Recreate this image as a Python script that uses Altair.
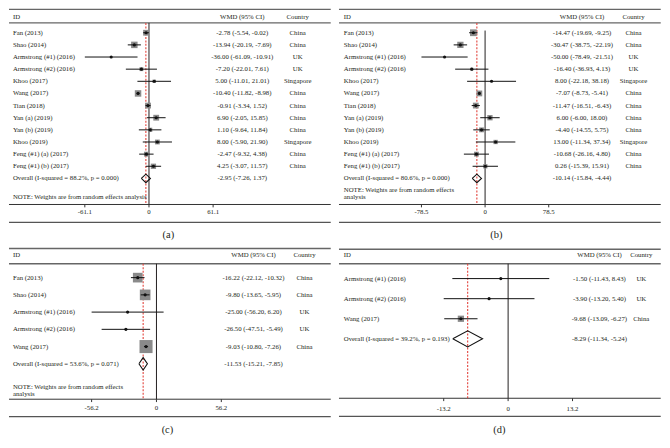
import altair as alt
import pandas as pd

FONT = "Liberation Serif"
TXT = "#231f20"
SX, SY = 0.975, 0.955
PW = 331                      # reference panel width (px)
W = PW * SX
FS = 6.8
CAPFS = 10.5

# ---------------- data ----------------
ab_study = ["Fan (2013)", "Shao (2014)", "Armstrong (#1) (2016)", "Armstrong (#2) (2016)",
            "Khoo (2017)", "Wang (2017)", "Tian (2018)", "Yan (a) (2019)", "Yan (b) (2019)",
            "Khoo (2019)", "Feng (#1) (a) (2017)", "Feng (#1) (b) (2017)"]
ab_country = ["China", "China", "UK", "UK", "Singapore", "China", "China", "China", "China",
              "Singapore", "China", "China"]

a_est = [-2.78, -13.94, -36.00, -7.20, 5.00, -10.40, -0.91, 6.90, 1.10, 8.00, -2.47, 4.25]
a_lo = [-5.54, -20.19, -61.09, -22.01, -11.01, -11.82, -3.34, -2.05, -9.64, -5.90, -9.32, -3.07]
a_hi = [-0.02, -7.69, -10.91, 7.61, 21.01, -8.98, 1.52, 15.85, 11.84, 21.90, 4.38, 11.57]
a_weight = [11.0, 13.7, 0.6, 4.9, 3.7, 13.7, 11.0, 11.0, 6.1, 7.6, 7.6, 9.1]
a_overall = [-2.95, -7.26, 1.37]
a_i2, a_p = "88.2%", "0.000"
a_ticks = [-61.1, 0, 61.1]
a_tick_labels = ["-61.1", "0", "61.1"]

b_est = [-14.47, -30.47, -50.00, -16.40, 8.00, -7.07, -11.47, 6.00, -4.40, 13.00, -10.68, 0.26]
b_lo = [-19.69, -38.75, -78.49, -36.93, -22.18, -8.73, -16.51, -6.00, -14.55, -11.34, -26.16, -15.39]
b_hi = [-9.25, -22.19, -21.51, 4.13, 38.18, -5.41, -6.43, 18.00, 5.75, 37.34, 4.80, 15.91]
b_weight = [16.4, 14.1, 0.7, 3.0, 1.3, 12.1, 12.1, 10.1, 8.4, 6.7, 8.4, 6.7]
b_overall = [-10.14, -15.84, -4.44]
b_i2, b_p = "80.6%", "0.000"
b_ticks = [-78.5, 0, 78.5]
b_tick_labels = ["-78.5", "0", "78.5"]

c_study = ["Fan (2013)", "Shao (2014)", "Armstrong (#1) (2016)", "Armstrong (#2) (2016)", "Wang (2017)"]
c_country = ["China", "China", "UK", "UK", "China"]
c_est = [-16.22, -9.80, -25.00, -26.50, -9.03]
c_lo = [-22.12, -13.65, -56.20, -47.51, -10.80]
c_hi = [-10.32, -5.95, 6.20, -5.49, -7.26]
c_weight = [24.4, 29.6, 0.5, 1.0, 44.5]
c_overall = [-11.53, -15.21, -7.85]
c_i2, c_p = "53.6%", "0.071"
c_ticks = [-56.2, 0, 56.2]
c_tick_labels = ["-56.2", "0", "56.2"]

d_study = ["Armstrong (#1) (2016)", "Armstrong (#2) (2016)", "Wang (2017)"]
d_country = ["UK", "UK", "China"]
d_est = [-1.50, -3.90, -9.68]
d_lo = [-11.43, -13.20, -13.09]
d_hi = [8.43, 5.40, -6.27]
d_weight = [4.3, 4.3, 91.4]
d_overall = [-8.29, -11.34, -5.24]
d_i2, d_p = "39.2%", "0.193"
d_ticks = [-13.2, 0, 13.2]
d_tick_labels = ["-13.2", "0", "13.2"]

note_one = ["NOTE: Weights are from random effects analysis"]
note_two = ["NOTE: Weights are from random effects", "analysis"]

# ---------------- layout (reference px, panel-local) ----------------
geo_a = dict(zero=144, k=1.08, h=249, row1=25.3, sp=12.75, top=0.8, head=9, head_rule=15,
             zero_top=15, axis=205.7, tick_lab=214, bottom=224.5, cap=238, cap_x=164,
             id_x=4, wmd_x=240, ctry_x=297, note=[198], dh=0.35, boxk=308)
geo_b = dict(zero=150.3, k=0.834, h=249, row1=25.3, sp=12.75, top=0.8, head=9, head_rule=15,
             zero_top=23, axis=205.7, tick_lab=214, bottom=224.5, cap=238, cap_x=162,
             id_x=5, wmd_x=250, ctry_x=303, note=[190, 198.3], dh=0.35, boxk=280)
geo_c = dict(zero=151.7, k=1.187, h=199, row1=33.3, sp=18.1, top=2.7, head=9.3, head_rule=18.7,
             zero_top=18.7, axis=161, tick_lab=170.3, bottom=179.3, cap=193.5, cap_x=163,
             id_x=4, wmd_x=251.5, ctry_x=304, note=[147.7, 156], dh=0.36, boxk=385)
geo_d = dict(zero=174, k=5.02, h=199, row1=34.3, sp=21.1, top=3.5, head=10, head_rule=18.7,
             zero_top=18.7, axis=160, tick_lab=171, bottom=179, cap=193.5, cap_x=165,
             id_x=5, wmd_x=268, ctry_x=311, note=[], dh=0.40, boxk=43)


def build(study, country, est, lo, hi, weight, overall, i2, p, ticks, tick_labels, g, caption, notes):
    def xv(px):
        return (px - g["zero"]) / g["k"]

    def ry(py):
        return (py - g["row1"]) / g["sp"] + 1

    def sx(px):
        return px * SX

    def sy(py):
        return py * SY

    H = g["h"] * SY
    xs = alt.Scale(domain=[xv(0), xv(PW)], nice=False, zero=False)
    ys = alt.Scale(domain=[ry(0), ry(g["h"])], nice=False, zero=False, reverse=True)

    def X(f):
        return alt.X(f, type="quantitative", scale=xs, axis=None)

    def Y(f):
        return alt.Y(f, type="quantitative", scale=ys, axis=None)

    n = len(study)
    df = pd.DataFrame(dict(row=list(range(1, n + 1)), study=study, country=country,
                           est=est, lo=lo, hi=hi, w=weight))
    df["wmd"] = [f"{e:.2f} ({l:.2f}, {h:.2f})" for e, l, h in zip(est, lo, hi)]
    orow = n + 1
    oe, ol, oh = overall
    odf = pd.DataFrame(dict(row=[orow], est=[oe],
                            label=[f"Overall (I-squared = {i2}, p = {p})"],
                            wmd=[f"{oe:.2f} ({ol:.2f}, {oh:.2f})"]))
    dh = g["dh"]
    ddf = pd.DataFrame(dict(i=list(range(5)), x=[ol, oe, oh, oe, ol],
                            y=[orow, orow - dh, orow, orow + dh, orow]))
    tdf = pd.DataFrame(dict(t=ticks, lab=tick_labels))
    one = pd.DataFrame({"a": [0]})

    def hline(py, color="#555", w=1.2):
        return alt.Chart(one).mark_rule(color=color, strokeWidth=w).encode(
            x=alt.value(0), x2=alt.value(W), y=alt.value(sy(py)))

    def label(text, px, py, align="left", size=FS):
        return alt.Chart(one).mark_text(text=text, align=align, baseline="middle", font=FONT,
                                        fontSize=size, color=TXT).encode(
            x=alt.value(sx(px)), y=alt.value(sy(py)))

    layers = [
        hline(g["top"], "#666", 1.4),
        hline(g["head_rule"], "#666", 1.3),
        hline(g["axis"], "#333", 1.0),
        hline(g["bottom"], "#555", 1.2),
        label("ID", g["id_x"], g["head"]),
        label("WMD (95% CI)", g["wmd_x"], g["head"], "center"),
        label("Country", g["ctry_x"], g["head"], "center"),
        alt.Chart(pd.DataFrame({"x": [0.0]})).mark_rule(color=TXT, strokeWidth=1).encode(
            x=X("x"), y=alt.value(sy(g["zero_top"])), y2=alt.value(sy(g["axis"]))),
        alt.Chart(odf).mark_rule(color="#e3423b", strokeDash=[2, 1.5], strokeWidth=1.1).encode(
            x=X("est"), y=alt.value(sy(g["head_rule"])), y2=alt.value(sy(g["axis"]))),
        alt.Chart(df).mark_square(color="#8a8a8a", opacity=1).encode(
            x=X("est"), y=Y("row"),
            size=alt.Size("w:Q", scale=alt.Scale(domain=[0, 100], range=[0, g["boxk"]]), legend=None)),
        alt.Chart(df).mark_rule(color="#111", strokeWidth=1).encode(
            x=X("lo"), x2="hi", y=Y("row")),
        alt.Chart(df).mark_point(shape="circle", filled=True, color="#111", size=10, opacity=1).encode(
            x=X("est"), y=Y("row")),
        alt.Chart(ddf).mark_line(color="#111", strokeWidth=1.1).encode(
            x=X("x"), y=Y("y"), order="i:Q"),
        alt.Chart(df).mark_text(align="left", baseline="middle", font=FONT, fontSize=FS, color=TXT).encode(
            x=alt.value(sx(g["id_x"])), y=Y("row"), text="study:N"),
        alt.Chart(df).mark_text(align="center", baseline="middle", font=FONT, fontSize=FS, color=TXT).encode(
            x=alt.value(sx(g["wmd_x"])), y=Y("row"), text="wmd:N"),
        alt.Chart(df).mark_text(align="center", baseline="middle", font=FONT, fontSize=FS, color=TXT).encode(
            x=alt.value(sx(g["ctry_x"])), y=Y("row"), text="country:N"),
        alt.Chart(odf).mark_text(align="left", baseline="middle", font=FONT, fontSize=FS, color=TXT).encode(
            x=alt.value(sx(g["id_x"])), y=Y("row"), text="label:N"),
        alt.Chart(odf).mark_text(align="center", baseline="middle", font=FONT, fontSize=FS, color=TXT).encode(
            x=alt.value(sx(g["wmd_x"])), y=Y("row"), text="wmd:N"),
        alt.Chart(tdf).mark_rule(color="#333", strokeWidth=1).encode(
            x=X("t"), y=alt.value(sy(g["axis"])), y2=alt.value(sy(g["axis"] + 3))),
        alt.Chart(tdf).mark_text(align="center", baseline="middle", font=FONT, fontSize=FS, color=TXT).encode(
            x=X("t"), y=alt.value(sy(g["tick_lab"])), text="lab:N"),
        label(caption, g["cap_x"], g["cap"], "center", CAPFS),
    ]
    for line, py in zip(notes, g["note"]):
        layers.append(label(line, g["id_x"], py))
    return alt.layer(*layers).properties(width=W, height=H)


pa = build(ab_study, ab_country, a_est, a_lo, a_hi, a_weight, a_overall, a_i2, a_p,
           a_ticks, a_tick_labels, geo_a, "(a)", note_one)
pb = build(ab_study, ab_country, b_est, b_lo, b_hi, b_weight, b_overall, b_i2, b_p,
           b_ticks, b_tick_labels, geo_b, "(b)", note_two)
pc = build(c_study, c_country, c_est, c_lo, c_hi, c_weight, c_overall, c_i2, c_p,
           c_ticks, c_tick_labels, geo_c, "(c)", note_two)
pd_ = build(d_study, d_country, d_est, d_lo, d_hi, d_weight, d_overall, d_i2, d_p,
            d_ticks, d_tick_labels, geo_d, "(d)", [])

top = alt.hconcat(pa, pb, spacing=6).resolve_scale(size="independent", x="independent", y="independent")
bottom = alt.hconcat(pc, pd_, spacing=6).resolve_scale(size="independent", x="independent", y="independent")
chart = (alt.vconcat(top, bottom, spacing=0)
         .resolve_scale(size="independent", x="independent", y="independent")
         .properties(padding=0, background="white")
         .configure_view(strokeWidth=0))

chart.save("out.html", embed_options={"renderer": "svg", "actions": False})
